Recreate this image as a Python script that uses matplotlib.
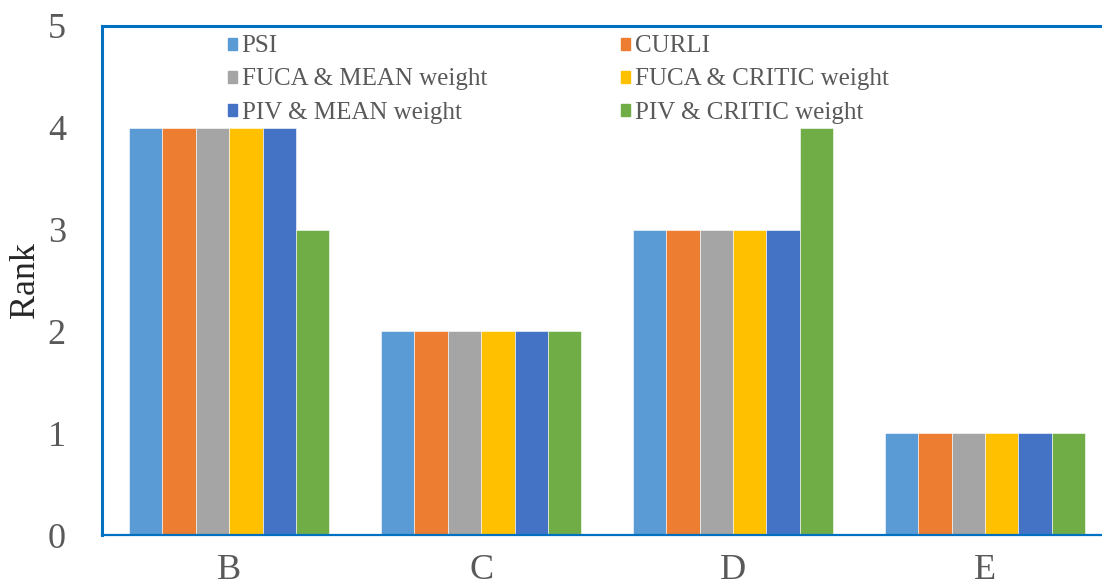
import matplotlib.pyplot as plt
import matplotlib.patches as mpatches
import numpy as np

plt.rcParams["font.family"] = ["Liberation Serif", "DejaVu Serif"]

categorias = ["B", "C", "D", "E"]
series = [
    "PSI",
    "CURLI",
    "FUCA & MEAN weight",
    "FUCA & CRITIC weight",
    "PIV & MEAN weight",
    "PIV & CRITIC weight",
]
psi = [4, 2, 3, 1]
curli = [4, 2, 3, 1]
fuca_mean = [4, 2, 3, 1]
fuca_critic = [4, 2, 3, 1]
piv_mean = [4, 2, 3, 1]
piv_critic = [3, 2, 4, 1]
valores = [psi, curli, fuca_mean, fuca_critic, piv_mean, piv_critic]
colores = ["#5B9BD5", "#ED7D31", "#A5A5A5", "#FFC000", "#4472C4", "#70AD47"]

W, H = 1102, 587
fig = plt.figure(figsize=(W / 100, H / 100), dpi=100)
ax = fig.add_axes([102 / W, 52 / H, 1009 / W, 509 / H])

x = np.arange(len(categorias))
ancho = 0.1325
for i, (vals, col) in enumerate(zip(valores, colores)):
    ax.bar(x + (i - 2.5) * ancho, vals, width=ancho, color=col,
           edgecolor="white", linewidth=0.4, zorder=2)

ax.set_xlim(-0.505, 3.5)
ax.set_ylim(0, 5)
ax.set_xticks(x)
ax.set_xticklabels(categorias)
ax.set_yticks(range(6))
ax.tick_params(axis="both", length=0, labelsize=26, colors="#595959")
ax.tick_params(axis="x", pad=14)
ax.tick_params(axis="y", pad=26)
ax.set_ylabel("Rank", fontsize=26, color="#262626", labelpad=4)

for lado in ["left", "top", "right", "bottom"]:
    ax.spines[lado].set_color("#0070C0")
    ax.spines[lado].set_linewidth(2.2)
ax.spines["bottom"].set_linewidth(1.6)

# matplotlib llena la leyenda por columnas: reordenar para que quede por filas
orden = [0, 2, 4, 1, 3, 5]
handles = [mpatches.Patch(color=colores[i], label=series[i]) for i in orden]
leg = ax.legend(
    handles=handles,
    ncol=2,
    loc="upper left",
    bbox_to_anchor=(215 / W, 1 - 23 / H),
    bbox_transform=fig.transFigure,
    frameon=False,
    fontsize=18,
    handlelength=0.36,
    handleheight=0.36,
    handletextpad=0.2,
    columnspacing=5.38,
    labelspacing=0.44,
    borderpad=0,
)
for t in leg.get_texts():
    t.set_color("#595959")

fig.savefig("out.png", dpi=100)
